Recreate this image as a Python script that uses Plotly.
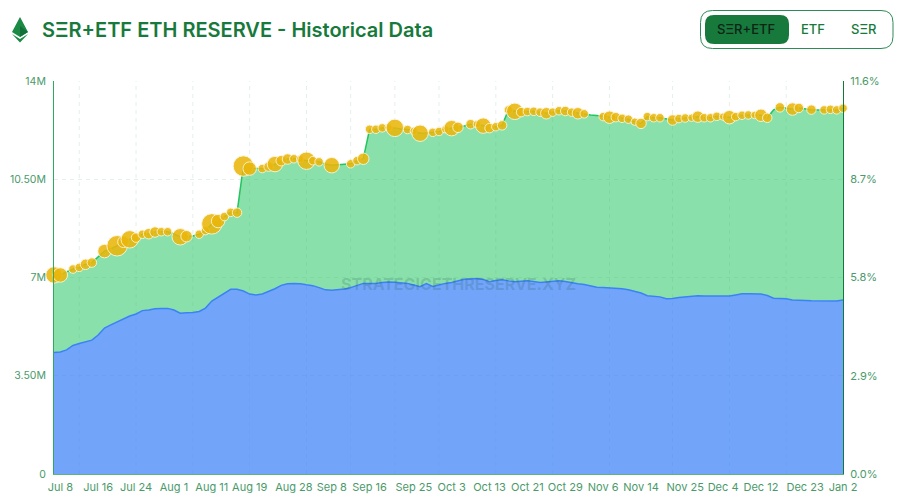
import pandas as pd
import plotly.graph_objects as go

# Trading days on the x axis
holidays = ["2025-09-01", "2025-11-27", "2025-12-25", "2026-01-01"]
days = pd.bdate_range("2025-07-07", "2026-01-02")
days = days[~days.isin(pd.to_datetime(holidays))]
dates = [d.strftime("%b ") + str(d.day) for d in days]

tick_dates = ["Jul 8", "Jul 16", "Jul 24", "Aug 1", "Aug 11", "Aug 19", "Aug 28", "Sep 8", "Sep 16", "Sep 25", "Oct 3",
              "Oct 13", "Oct 21", "Oct 29", "Nov 6", "Nov 14", "Nov 25", "Dec 4", "Dec 12", "Dec 23", "Jan 2"]
grid_dates = ["Jul 11", "Jul 24", "Aug 6", "Aug 19", "Sep 2", "Sep 11", "Sep 22", "Oct 1", "Oct 14", "Oct 27",
              "Nov 7", "Nov 21", "Dec 5", "Dec 18"]

# Holdings in millions of ETH
total_reserve = [7.09, 7.09, 7.20, 7.30, 7.36, 7.47, 7.53, 7.73, 7.94, 8.02, 8.13, 8.27, 8.36, 8.42, 8.54, 8.56,
                 8.62, 8.63, 8.63, 8.55, 8.45, 8.47, 8.48, 8.54, 8.67, 8.91, 9.01, 9.17, 9.32, 9.31, 10.97, 10.88,
                 10.87, 10.88, 10.95, 11.04, 11.16, 11.22, 11.23, 11.22, 11.16, 11.16, 11.12, 11.04, 11.00, 11.01,
                 11.03, 11.05, 11.16, 11.23, 12.28, 12.28, 12.33, 12.34, 12.33, 12.29, 12.27, 12.22, 12.14, 12.15,
                 12.17, 12.20, 12.28, 12.32, 12.35, 12.40, 12.46, 12.46, 12.41, 12.32, 12.37, 12.42, 12.97, 12.92,
                 12.89, 12.91, 12.92, 12.89, 12.85, 12.89, 12.94, 12.93, 12.89, 12.85, 12.83, 12.79, 12.77, 12.73,
                 12.71, 12.71, 12.67, 12.64, 12.55, 12.49, 12.73, 12.69, 12.69, 12.65, 12.61, 12.66, 12.68, 12.69,
                 12.73, 12.69, 12.69, 12.74, 12.73, 12.71, 12.73, 12.78, 12.79, 12.79, 12.78, 12.69, 12.97, 13.06,
                 13.02, 13.00, 13.04, 13.00, 12.98, 12.97, 12.97, 12.99, 12.97, 13.03]
etf_reserve = [4.33, 4.35, 4.42, 4.58, 4.65, 4.70, 4.77, 4.95, 5.20, 5.31, 5.42, 5.54, 5.63, 5.70, 5.82, 5.84,
               5.89, 5.90, 5.90, 5.84, 5.73, 5.74, 5.75, 5.79, 5.91, 6.16, 6.29, 6.45, 6.58, 6.58, 6.52, 6.41,
               6.38, 6.41, 6.50, 6.60, 6.72, 6.78, 6.79, 6.78, 6.74, 6.71, 6.64, 6.56, 6.55, 6.56, 6.59, 6.64,
               6.72, 6.79, 6.79, 6.79, 6.82, 6.84, 6.83, 6.81, 6.79, 6.73, 6.67, 6.78, 6.68, 6.73, 6.79, 6.82,
               6.87, 6.94, 6.95, 6.96, 6.93, 6.85, 6.89, 6.92, 6.88, 6.85, 6.87, 6.88, 6.86, 6.82, 6.84, 6.86,
               6.88, 6.86, 6.81, 6.78, 6.75, 6.70, 6.65, 6.64, 6.63, 6.62, 6.60, 6.56, 6.50, 6.45, 6.35, 6.33,
               6.31, 6.24, 6.25, 6.29, 6.31, 6.33, 6.35, 6.34, 6.34, 6.34, 6.34, 6.34, 6.38, 6.42, 6.42, 6.42,
               6.41, 6.36, 6.26, 6.25, 6.24, 6.20, 6.20, 6.18, 6.17, 6.17, 6.17, 6.16, 6.16, 6.20]

# Bubble diameter for each day, 0 where that day has no purchase bubble
bubble_sizes = [15, 13, 0, 7, 7, 9, 8, 0, 12, 0, 19, 10, 16, 8, 7, 9, 9, 7, 7, 0, 15, 10, 0, 7, 7, 19, 12, 7, 7, 8,
                19, 12, 0, 7, 8, 14, 9, 9, 7, 6, 16, 7, 7, 0, 14, 0, 0, 7, 7, 10, 7, 7, 7, 6, 16, 0, 7, 6, 15, 0,
                7, 7, 6, 14, 9, 0, 8, 6, 14, 8, 7, 8, 7, 15, 8, 7, 7, 7, 10, 7, 7, 8, 7, 10, 7, 0, 0, 7, 11, 8,
                7, 7, 6, 9, 7, 7, 7, 0, 9, 7, 7, 6, 10, 7, 7, 7, 6, 12, 7, 7, 7, 6, 11, 8, 0, 8, 0, 11, 8, 0, 8,
                0, 7, 7, 7, 7]

left_ticks = [0, 3.5, 7, 10.5, 14]
left_labels = ["0", "3.50M", "7M", "10.50M", "14M"]
right_ticks = [0, 2.9, 5.8, 8.7, 11.6]
right_labels = ["0.0%", "2.9%", "5.8%", "8.7%", "11.6%"]

W, H = 903, 501
L, R, T, B = 54, 843, 81, 474
GREEN = "#177a3c"


# Header items are placed in screen pixels
def px(x):
    return (x - L) / (R - L)


def py(y):
    return (B - y) / (B - T)


def round_rect(x0, y0, x1, y1, r):
    return (f"M {px(x0 + r)} {py(y0)} L {px(x1 - r)} {py(y0)} Q {px(x1)} {py(y0)} {px(x1)} {py(y0 + r)} "
            f"L {px(x1)} {py(y1 - r)} Q {px(x1)} {py(y1)} {px(x1 - r)} {py(y1)} "
            f"L {px(x0 + r)} {py(y1)} Q {px(x0)} {py(y1)} {px(x0)} {py(y1 - r)} "
            f"L {px(x0)} {py(y0 + r)} Q {px(x0)} {py(y0)} {px(x0 + r)} {py(y0)} Z")


def poly(points):
    return "M " + " L ".join(f"{px(x)} {py(y)}" for x, y in points) + " Z"


fig = go.Figure()
fig.add_trace(go.Scatter(x=dates, y=etf_reserve, mode="lines", name="ETF", fill="tozeroy",
                         fillcolor="rgba(59,130,246,0.72)", line=dict(color="#3b82f6", width=1.5)))
fig.add_trace(go.Scatter(x=dates, y=total_reserve, mode="lines", name="SΞR", fill="tonexty",
                         fillcolor="rgba(34,197,94,0.53)", line=dict(color="#22c55e", width=1.5)))

bubble_x = [d for d, s in zip(dates, bubble_sizes) if s > 0]
bubble_y = [v for v, s in zip(total_reserve, bubble_sizes) if s > 0]
bubble_s = [s + 1.5 for s in bubble_sizes if s > 0]
fig.add_trace(go.Scatter(x=bubble_x, y=bubble_y, mode="markers", name="Purchases", cliponaxis=False,
                         marker=dict(size=bubble_s, color="#eab70c", opacity=0.88,
                                     line=dict(color="#fdf6dc", width=1))))
# Carries the supply percentage axis on the right
fig.add_trace(go.Scatter(x=[dates[0], dates[-1]], y=[right_ticks[0], right_ticks[-1]], yaxis="y2", mode="lines",
                         line=dict(width=0), hoverinfo="skip", showlegend=False))

for d in grid_dates:
    fig.add_shape(type="line", x0=d, x1=d, yref="paper", y0=0, y1=1, layer="below",
                  line=dict(color="#e3f0e9", width=1, dash="4px,4px"))

# Ethereum logo
fig.add_shape(type="path", xref="paper", yref="paper", line_width=0, fillcolor="#1a8a45",
              path=poly([(20, 17), (28, 32), (20, 37), (12, 32)]))
fig.add_shape(type="path", xref="paper", yref="paper", line_width=0, fillcolor="#1a8a45",
              path=poly([(12, 34), (20, 39), (28, 34), (20, 42.5)]))
fig.add_shape(type="path", xref="paper", yref="paper", line_width=0, fillcolor="#14703a",
              path=poly([(20, 17), (20, 26), (28, 32), (20, 37)]))

# Toggle buttons
fig.add_shape(type="path", xref="paper", yref="paper", fillcolor="white", line=dict(color="#2e8b57", width=1),
              path=round_rect(700.5, 10.5, 893, 48.5, 12))
fig.add_shape(type="path", xref="paper", yref="paper", fillcolor=GREEN, line_width=0,
              path=round_rect(705, 15, 789, 44, 9))

notes = [
    dict(text="SΞR+ETF ETH RESERVE - Historical Data", x=40.5, y=30, xanchor="left",
         font=dict(family="Inter", size=20, color=GREEN, weight=600)),
    dict(text="SΞR+ETF", x=746, y=29, xanchor="center",
         font=dict(family="Inter", size=13, color="#0c2414", weight=500)),
    dict(text="ETF", x=813, y=29, xanchor="center", font=dict(family="Inter", size=13, color=GREEN, weight=500)),
    dict(text="SΞR", x=863.5, y=29, xanchor="center", font=dict(family="Inter", size=13, color=GREEN, weight=500)),
    dict(text="STRATEGICETHRESERVE.XYZ", x=459, y=284, xanchor="center",
         font=dict(family="Inter", size=16, color="rgba(30,90,90,0.2)", weight=700)),
]
for n in notes:
    fig.add_annotation(xref="paper", yref="paper", showarrow=False, yanchor="middle", borderpad=0,
                       x=px(n["x"]), y=py(n["y"]), text=n["text"], xanchor=n["xanchor"], font=n["font"])

fig.update_layout(
    width=W, height=H, autosize=False, showlegend=False,
    paper_bgcolor="white", plot_bgcolor="white",
    margin=dict(l=L, r=W - R, t=T, b=H - B, pad=0, autoexpand=False),
    font=dict(family="Inter", size=11, color="#4a9a6a"),
    xaxis=dict(type="category", categoryorder="array", categoryarray=dates, range=[0, len(dates) - 1],
               tickmode="array", tickvals=tick_dates, ticktext=tick_dates, tickangle=0, ticklen=0,
               showgrid=False, zeroline=False, showline=True, linecolor="#5cb57f", linewidth=1,
               ticklabelstandoff=3, tickfont=dict(size=11, color="#4a9a6a")),
    yaxis=dict(range=[0, 14], tickmode="array", tickvals=left_ticks, ticktext=left_labels, ticklen=0,
               showgrid=True, gridcolor="#e3f0e9", griddash="4px,4px", zeroline=False, showline=True,
               linecolor="#2fa866", linewidth=1, ticklabelstandoff=5, tickfont=dict(size=10.5, color="#4a9a6a")),
    yaxis2=dict(range=[0, 11.6], overlaying="y", side="right", tickmode="array", tickvals=right_ticks,
                ticktext=right_labels, ticklen=0, showgrid=False, zeroline=False, showline=True,
                linecolor="#0f7a3a", linewidth=1, ticklabelstandoff=4, tickfont=dict(size=11, color="#4a9a6a")),
)

fig.write_html("out.html", config=dict(displayModeBar=False),
               post_script="document.body.style.margin='0';")
